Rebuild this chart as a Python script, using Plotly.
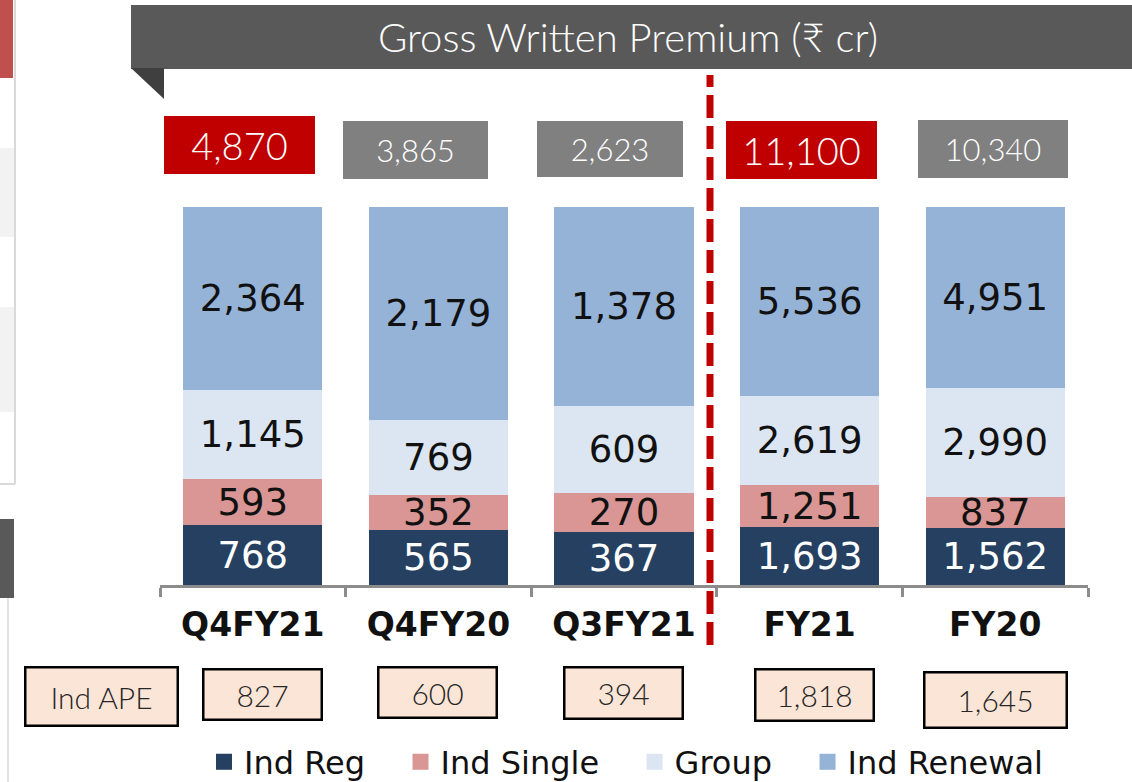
import plotly.graph_objects as go

# ---------------- data ----------------
categories = ["Q4FY21", "Q4FY20", "Q3FY21", "FY21", "FY20"]
ind_reg = [768, 565, 367, 1693, 1562]
ind_single = [593, 352, 270, 1251, 837]
group = [1145, 769, 609, 2619, 2990]
ind_renewal = [2364, 2179, 1378, 5536, 4951]
gwp_total = [4870, 3865, 2623, 11100, 10340]
ind_ape = [827, 600, 394, 1818, 1645]
highlight = [True, False, False, True, False]

series_names = ["Ind Reg", "Ind Single", "Group", "Ind Renewal"]
series_values = [ind_reg, ind_single, group, ind_renewal]

# ---------------- styles ----------------
series_colors = ["#254061", "#d99694", "#dce6f2", "#95b3d7"]
label_colors = ["white", "#111111", "#111111", "#111111"]
W, H = 1132, 782
X0, X1 = 160, 1088   # plot area pixel extents
Y0, Y1 = 207, 585
LEGEND_PAD = "\u00a0\u00a0\u00a0"   # extra spacing between legend entries


def px(x):
    return (x - X0) / (X1 - X0)


def py(y):
    return (Y1 - y) / (Y1 - Y0)


fig = go.Figure()

for name, vals, col, lc in zip(series_names, series_values, series_colors, label_colors):
    fig.add_trace(go.Bar(
        x=categories, y=vals, name=name,
        marker=dict(color=col, line=dict(width=0)),
        text=[f"{v:,}" for v in vals], texttemplate="%{text}",
        textposition="inside", insidetextanchor="middle",
        textangle=0,
        textfont=dict(family="DejaVu Sans", size=37, color=lc),
        showlegend=False, hoverinfo="skip",
    ))

# legend entries (square swatches)
for name, col in zip(series_names, series_colors):
    fig.add_trace(go.Scatter(
        x=[None], y=[None], mode="markers", name=name + LEGEND_PAD,
        marker=dict(symbol="square", size=16, color=col),
        showlegend=True,
    ))

shapes = []
annotations = []

# left slide fragments
shapes += [
    dict(type="rect", xref="paper", yref="paper", x0=px(0), x1=px(13), y0=py(78), y1=py(0),
         fillcolor="#c0504d", line=dict(width=0), layer="below"),
    dict(type="rect", xref="paper", yref="paper", x0=px(0), x1=px(14), y0=py(237), y1=py(148),
         fillcolor="#f2f2f2", line=dict(width=0), layer="below"),
    dict(type="rect", xref="paper", yref="paper", x0=px(0), x1=px(14), y0=py(412), y1=py(307),
         fillcolor="#f2f2f2", line=dict(width=0), layer="below"),
    dict(type="line", xref="paper", yref="paper", x0=px(15), x1=px(15), y0=py(484), y1=py(0),
         line=dict(color="#d9d9d9", width=2)),
    dict(type="line", xref="paper", yref="paper", x0=px(0), x1=px(15), y0=py(484), y1=py(484),
         line=dict(color="#d9d9d9", width=2)),
    dict(type="rect", xref="paper", yref="paper", x0=px(0), x1=px(14), y0=py(598), y1=py(519),
         fillcolor="#595959", line=dict(width=0)),
    dict(type="line", xref="paper", yref="paper", x0=px(8), x1=px(8), y0=py(782), y1=py(598),
         line=dict(color="#e3e3e3", width=2)),
]

# title banner
shapes.append(dict(type="rect", xref="paper", yref="paper", x0=px(131), x1=px(1132),
                   y0=py(69), y1=py(5), fillcolor="#595959", line=dict(width=0)))
shapes.append(dict(type="path", xref="paper", yref="paper",
                   path=f"M {px(131)},{py(68)} L {px(164)},{py(68)} L {px(164)},{py(99)} Z",
                   fillcolor="#3f3f3f", line=dict(width=0)))
annotations.append(dict(xref="paper", yref="paper", x=px(628), y=py(37),
                        text="Gross Written Premium (₹ cr)", showarrow=False,
                        xanchor="center", yanchor="middle",
                        font=dict(family="Lato", weight=300, size=40, color="white")))

# dashed divider
shapes.append(dict(type="line", xref="paper", yref="paper", x0=px(710), x1=px(710),
                   y0=py(645), y1=py(75),
                   line=dict(color="#c00000", width=7, dash="23px,8px")))

# totals boxes
box_dx = [-13, -23, -14, -8, -2]
box_cy = [145, 150, 149, 150, 149]
box_w = [151, 145, 146, 151, 150]
box_h = [58, 58, 56, 58, 58]
for i, cat in enumerate(categories):
    red = highlight[i]
    annotations.append(dict(
        xref="x", yref="paper", x=cat, y=py(box_cy[i]), xshift=box_dx[i],
        text=f"{gwp_total[i]:,}", showarrow=False, xanchor="center", yanchor="middle",
        width=box_w[i], height=box_h[i], borderpad=0, borderwidth=0,
        bgcolor="#c00000" if red else "#808080", align="center", valign="middle",
        font=dict(family="Lato", weight=300, size=38 if red else 31, color="white")))

# Ind APE boxes
ape_dx = [10, -1, -1, 5, 0]
ape_cy = [694, 692, 693, 695, 700]
ape_w = [116, 116, 116, 116, 140]
ape_h = [48, 48, 49, 49, 53]
annotations.append(dict(
    xref="paper", yref="paper", x=px(101), y=py(696), text="Ind APE", showarrow=False,
    xanchor="center", yanchor="middle", width=150, height=56, borderpad=0,
    bgcolor="#fbe5d6", bordercolor="#000000", borderwidth=2.5, align="center", valign="middle",
    font=dict(family="Lato", weight=300, size=30, color="#262626")))
for i, cat in enumerate(categories):
    annotations.append(dict(
        xref="x", yref="paper", x=cat, y=py(ape_cy[i]), xshift=ape_dx[i],
        text=f"{ind_ape[i]:,}", showarrow=False, xanchor="center", yanchor="middle",
        width=ape_w[i], height=ape_h[i], borderpad=0,
        bgcolor="#fbe5d6", bordercolor="#000000", borderwidth=2.5, align="center", valign="middle",
        font=dict(family="Lato", weight=300, size=30, color="#262626")))

fig.update_layout(
    width=W, height=H,
    margin=dict(l=X0, r=W - X1, t=Y0, b=H - Y1, pad=0, autoexpand=False),
    paper_bgcolor="white", plot_bgcolor="white",
    barmode="stack", barnorm="percent", bargap=0.25,
    uniformtext=dict(minsize=37, mode="show"),
    xaxis=dict(type="category", categoryorder="array", categoryarray=categories,
               range=[-0.5, 4.5], tickson="boundaries", ticks="outside", ticklen=9,
               tickwidth=2.5, tickcolor="#8c8c8c", showline=True, linecolor="#8c8c8c",
               linewidth=2.5, showgrid=False, zeroline=False, ticklabelstandoff=9,
               tickfont=dict(family="DejaVu Sans", weight="bold", size=33, color="#111111"),
               fixedrange=True),
    xaxis2=dict(overlaying="x", anchor="y", side="bottom", range=[-0.5, 4.5],
                tickmode="array", tickvals=[-0.5, 0.5, 1.5, 2.5, 3.5, 4.5],
                ticks="inside", ticklen=9, tickwidth=2.5, tickcolor="#8c8c8c",
                showticklabels=False, showline=False, showgrid=False, zeroline=False,
                fixedrange=True),
    yaxis=dict(range=[0, 100], visible=False, fixedrange=True),
    legend=dict(orientation="h", traceorder="normal", x=px(204), xanchor="left",
                y=py(762), yanchor="middle",
                font=dict(family="DejaVu Sans", size=32, color="#111111"),
                bgcolor="rgba(0,0,0,0)", itemclick=False, itemdoubleclick=False),
    shapes=shapes, annotations=annotations,
)

fig.write_html("out.html", config={"displayModeBar": False},
               post_script="document.body.style.margin='0';document.body.style.overflow='hidden';")
